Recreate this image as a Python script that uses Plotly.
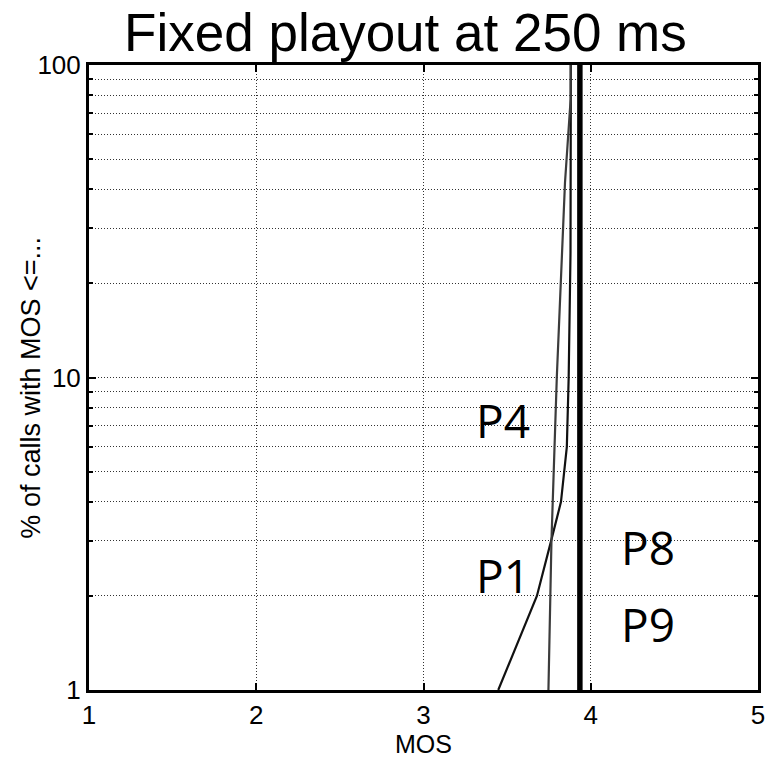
import math
import plotly.graph_objects as go

# ---- data ----
p1_mos = [3.447, 3.678, 3.763, 3.822, 3.857, 3.868, 3.879, 3.881]
p1_pct = [1, 2, 3, 4, 6, 10, 25, 100]

p4_mos = [3.747, 3.765, 3.797, 3.825, 3.846, 3.880, 3.880]
p4_pct = [1, 3, 10, 23.7, 42, 78, 100]

p8_mos = [3.935, 3.935]
p8_pct = [1, 100]
p9_mos = [3.935, 3.935]
p9_pct = [1, 100]

labels = ["P4", "P1", "P8", "P9"]
label_x = [3.30, 3.30, 4.17, 4.17]
label_y = [7.3, 2.33, 2.87, 1.63]

x_ticks = [1, 2, 3, 4, 5]
x_ticktext = ["1", "2", "3", "4", "5"]
y_major = [1, 10, 100]
y_major_text = ["1", "10", "100"]
y_minor = [2, 3, 4, 5, 6, 7, 8, 9, 20, 30, 40, 50, 60, 70, 80, 90]

y_title = "% of calls with MOS <=..."
x_title = "MOS"
title = "Fixed playout at 250 ms"

NARROW = "Liberation Sans Narrow, Liberation Sans, Arial Narrow, sans-serif"
LABELF = "Open Sans, Noto Sans, DejaVu Sans, sans-serif"
GRIDDASH = "1px,2px"

fig = go.Figure()
fig.add_trace(go.Scatter(x=p1_mos, y=p1_pct, mode="lines", name="P1",
                         line=dict(color="#111111", width=2.2)))
fig.add_trace(go.Scatter(x=p4_mos, y=p4_pct, mode="lines", name="P4",
                         line=dict(color="#3c3c3c", width=2.2)))
fig.add_trace(go.Scatter(x=p8_mos, y=p8_pct, mode="lines", name="P8",
                         line=dict(color="#000000", width=5)))
fig.add_trace(go.Scatter(x=p9_mos, y=p9_pct, mode="lines", name="P9",
                         line=dict(color="#000000", width=5)))

for t, lx, ly in zip(labels, label_x, label_y):
    fig.add_annotation(x=lx, y=math.log10(ly), xref="x", yref="y", text=t,
                       showarrow=False, xanchor="left", yanchor="middle",
                       font=dict(family=LABELF, size=46, color="#000000"))

# rotated y-axis title
fig.add_annotation(x=-0.088, y=0.484, xref="paper", yref="paper", text=y_title,
                   textangle=-90, showarrow=False, xanchor="center", yanchor="middle",
                   font=dict(family="Liberation Sans, Arial, sans-serif", size=27, color="black"))

fig.update_layout(
    width=767, height=764,
    margin=dict(l=89, r=9, t=65, b=74, autoexpand=False),
    paper_bgcolor="white", plot_bgcolor="white",
    showlegend=False,
    title=dict(text=title, x=0.473, xref="paper", xanchor="center",
               y=1 - 32 / 764, yref="container", yanchor="middle",
               font=dict(family=NARROW, size=53, color="#000000")),
)

fig.update_xaxes(
    range=[1, 5], tickmode="array", tickvals=x_ticks, ticktext=x_ticktext,
    automargin=False,
    showline=True, linecolor="black", linewidth=3, mirror="ticks",
    ticks="inside", ticklen=7, tickwidth=2, tickcolor="black",
    showgrid=True, gridcolor="#333333", gridwidth=1, griddash=GRIDDASH,
    zeroline=False,
    tickfont=dict(family=NARROW, size=26, color="black"),
    title=dict(text=x_title, font=dict(family=NARROW, size=25, color="black"), standoff=2),
)
fig.update_yaxes(
    type="log", range=[0, 2], tickmode="array", tickvals=y_major, ticktext=y_major_text,
    automargin=False,
    showline=True, linecolor="black", linewidth=3, mirror="ticks",
    ticks="inside", ticklen=7, tickwidth=2, tickcolor="black",
    showgrid=True, gridcolor="#333333", gridwidth=1, griddash=GRIDDASH,
    zeroline=False,
    minor=dict(tickmode="array", tickvals=y_minor, ticks="inside", ticklen=4,
               tickwidth=2, tickcolor="black", showgrid=True,
               gridcolor="#333333", gridwidth=1, griddash=GRIDDASH),
    tickfont=dict(family=NARROW, size=26, color="black"),
)

fig.write_html("out.html")
